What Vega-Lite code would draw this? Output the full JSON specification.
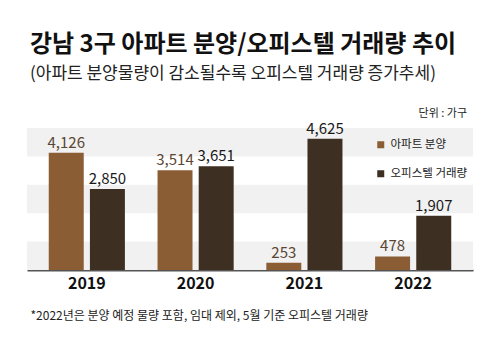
{
  "$schema": "https://vega.github.io/schema/vega-lite/v6.json",
  "autosize": "none",
  "width": 446,
  "height": 142,
  "padding": {"left": 27, "top": 128, "right": 27, "bottom": 73},
  "background": "#ffffff",
  "config": {"font": "Noto Sans CJK KR", "view": {"stroke": null}},
  "title": {
    "text": "강남 3구 아파트 분양/오피스텔 거래량 추이",
    "subtitle": "(아파트 분양물량이 감소될수록 오피스텔 거래량 증가추세)",
    "anchor": "start",
    "frame": "group",
    "dx": 3,
    "offset": 26,
    "fontSize": 24,
    "fontWeight": "bold",
    "color": "#111111",
    "subtitleFontSize": 17,
    "subtitleColor": "#222222",
    "subtitlePadding": 9
  },
  "datasets": {
    "bands": [
      {"lo": 0, "hi": 1000},
      {"lo": 2000, "hi": 3000},
      {"lo": 4000, "hi": 5000}
    ],
    "rows": [
      {"year": "2019", "series": "아파트 분양", "value": 4126},
      {"year": "2019", "series": "오피스텔 거래량", "value": 2850},
      {"year": "2020", "series": "아파트 분양", "value": 3514},
      {"year": "2020", "series": "오피스텔 거래량", "value": 3651},
      {"year": "2021", "series": "아파트 분양", "value": 253},
      {"year": "2021", "series": "오피스텔 거래량", "value": 4625},
      {"year": "2022", "series": "아파트 분양", "value": 478},
      {"year": "2022", "series": "오피스텔 거래량", "value": 1907}
    ]
  },
  "layer": [
    {
      "data": {"name": "bands"},
      "mark": {"type": "rect", "color": "#f1f1f1"},
      "encoding": {
        "y": {"field": "lo", "type": "quantitative", "scale": {"domain": [0, 5000], "nice": false}, "axis": null},
        "y2": {"field": "hi"}
      }
    },
    {
      "data": {"name": "rows"},
      "encoding": {
        "x": {
          "field": "year", "type": "nominal",
          "scale": {"paddingInner": 0.3, "paddingOuter": 0.2},
          "axis": {
            "title": "*2022년은 분양 예정 물량 포함, 임대 제외, 5월 기준 오피스텔 거래량",
            "titleAnchor": "start", "titleAlign": "left", "titleX": 3, "titleY": 40,
            "titleFontSize": 12, "titleFontWeight": "normal", "titleColor": "#222222",
            "labelAngle": 0, "labelFontSize": 16, "labelFontWeight": "bold", "labelColor": "#111111",
            "labelPadding": 5, "ticks": false, "domainColor": "#555555", "domainWidth": 2
          }
        },
        "xOffset": {"field": "series", "type": "nominal", "scale": {"paddingInner": 0.15}},
        "y": {"field": "value", "type": "quantitative", "scale": {"domain": [0, 5000], "nice": false}, "axis": null}
      },
      "layer": [
        {
          "mark": {"type": "bar"},
          "encoding": {
            "color": {
              "field": "series", "type": "nominal",
              "scale": {"domain": ["아파트 분양", "오피스텔 거래량"], "range": ["#8b5d35", "#3d2f22"]},
              "legend": {
                "title": "단위 : 가구",
                "orient": "none", "legendX": 348, "legendY": -20,
                "titleFontSize": 11, "titleFontWeight": "normal", "titleColor": "#222222",
                "titleAnchor": "end", "titlePadding": 20,
                "symbolType": "square", "symbolSize": 49, "symbolStrokeWidth": 0,
                "labelFontSize": 11.5, "labelColor": "#222222", "rowPadding": 16
              }
            }
          }
        },
        {
          "mark": {"type": "text", "baseline": "bottom", "dy": -2, "fontSize": 15},
          "encoding": {
            "text": {"field": "value", "type": "quantitative", "format": ","},
            "color": {"condition": {"test": "datum.series === '아파트 분양'", "value": "#5a4632"}, "value": "#1a1a1a"}
          }
        }
      ]
    }
  ]
}
